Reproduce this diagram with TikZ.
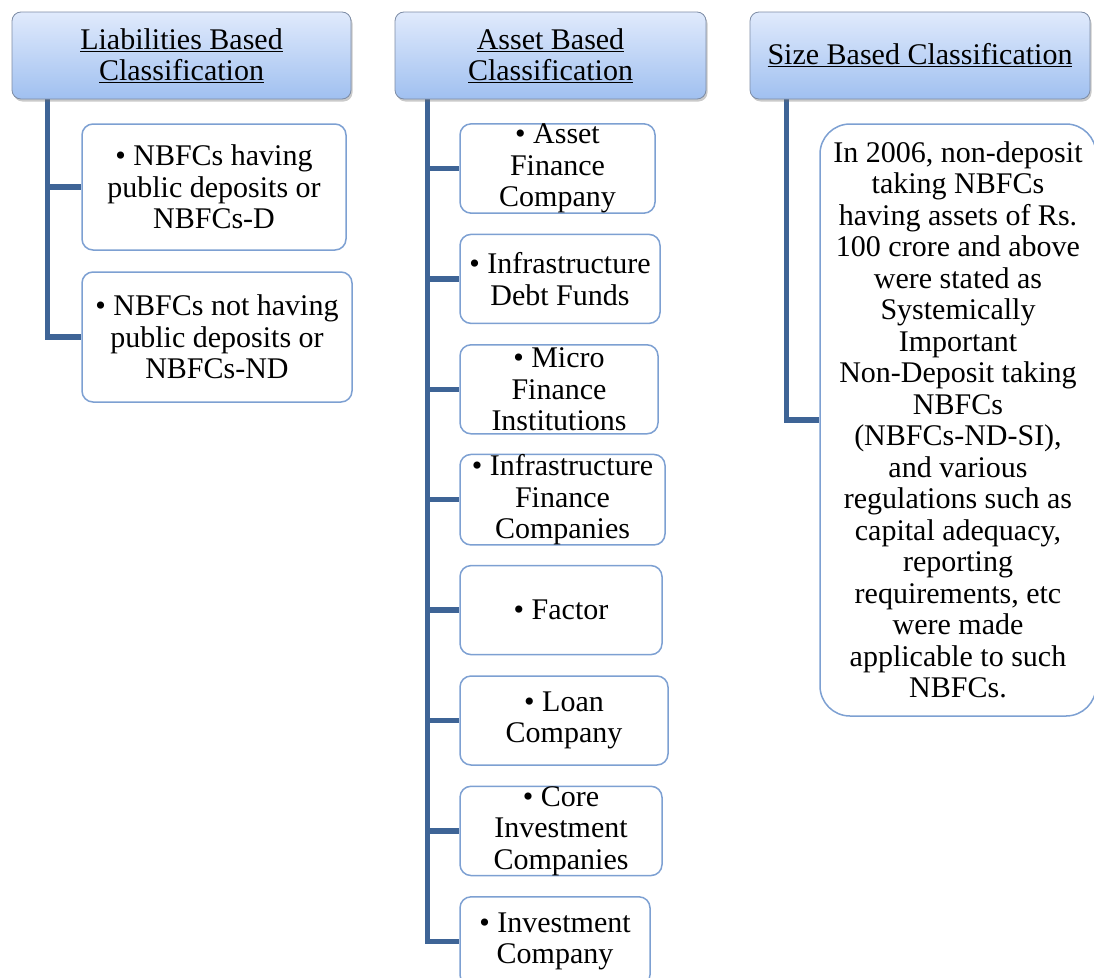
\documentclass[tikz,border=0pt]{standalone}
\usepackage{fontspec}
\setmainfont{Liberation Serif}
\usetikzlibrary{shadows,backgrounds}

\definecolor{spine}{RGB}{62,100,150}
\definecolor{boxline}{RGB}{125,160,210}
\definecolor{headtop}{RGB}{224,234,252}
\definecolor{headbot}{RGB}{160,192,240}
\definecolor{headline}{RGB}{125,140,165}

\tikzset{
  txt/.style={font=\fontsize{30}{31.5}\selectfont, text=black, align=center, inner sep=0pt},
  header/.style={txt, draw=headline, line width=0.8pt, rounded corners=9pt,
    top color=headtop, bottom color=headbot,
    drop shadow={shadow xshift=1.5pt, shadow yshift=-2.5pt, opacity=0.35, fill=black!60}},
  itembox/.style={txt, draw=boxline, line width=1.5pt, rounded corners=11pt, fill=white},
  bigbox/.style={itembox, rounded corners=30pt},
  spineline/.style={draw=spine, line width=5.5pt},
}

\begin{document}
\begin{tikzpicture}[x=1pt, y=-1pt]
\useasboundingbox (0,0) rectangle (1094,977);

% column headers
\node[header, minimum width=339pt, minimum height=87pt] (LH) at (181.5,55.5)
  {\underline{Liabilities Based}\\\underline{Classification}};
\node[header, minimum width=311pt, minimum height=87pt] (AH) at (550.5,55.5)
  {\underline{Asset Based}\\\underline{Classification}};
\node[header, minimum width=340pt, minimum height=87pt] (SH) at (920,55.5)
  {\underline{Size Based Classification}};

% liabilities based items
\node[itembox, minimum width=264pt, minimum height=126pt] (L1) at (214,187)
  {• NBFCs having\\public deposits or\\NBFCs-D};
\node[itembox, minimum width=270pt, minimum height=130pt] (L2) at (217,337)
  {• NBFCs not having\\public deposits or\\NBFCs-ND};

% asset based items
\node[itembox, minimum width=195pt, minimum height=89pt] (A1) at (557.5,168.5)
  {• Asset\\Finance\\Company};
\node[itembox, minimum width=200pt, minimum height=89pt] (A2) at (560,278.9)
  {• Infrastructure\\Debt Funds};
\node[itembox, minimum width=198pt, minimum height=89pt] (A3) at (559,389.3)
  {• Micro\\Finance\\Institutions};
\node[itembox, minimum width=205pt, minimum height=89pt] (A4) at (562.5,499.7)
  {• Infrastructure\\Finance\\Companies};
\node[itembox, minimum width=202pt, minimum height=89pt] (A5) at (561,610.1)
  {• Factor};
\node[itembox, minimum width=208pt, minimum height=89pt] (A6) at (564,720.5)
  {• Loan\\Company};
\node[itembox, minimum width=202pt, minimum height=89pt] (A7) at (561,830.9)
  {• Core\\Investment\\Companies};
\node[itembox, minimum width=190pt, minimum height=89pt] (A8) at (555,941.3)
  {• Investment\\Company};

% size based item
\node[bigbox, minimum width=276pt, minimum height=592pt] (S1) at (958,420)
  {In 2006, non-deposit\\taking NBFCs\\having assets of Rs.\\100 crore and above\\
   were stated as\\Systemically\\Important\\Non-Deposit taking\\NBFCs\\(NBFCs-ND-SI),\\
   and various\\regulations such as\\capital adequacy,\\reporting\\requirements, etc\\
   were made\\applicable to such\\NBFCs.};

% spines and branches
\coordinate (Lsp) at ([xshift=36pt]LH.south west);
\coordinate (Asp) at ([xshift=33pt]AH.south west);
\coordinate (Ssp) at ([xshift=37pt]SH.south west);

\begin{scope}[on background layer]
  \draw[spineline] (Lsp) |- (L2.west);
  \draw[spineline] (Lsp |- L1.west) -- (L1.west);

  \draw[spineline] (Asp) |- (A8.west);
  \foreach \n in {A1,A2,A3,A4,A5,A6,A7}
    \draw[spineline] (Asp |- \n.west) -- (\n.west);

  \draw[spineline] (Ssp) |- (S1.west);
\end{scope}
\end{tikzpicture}
\end{document}
